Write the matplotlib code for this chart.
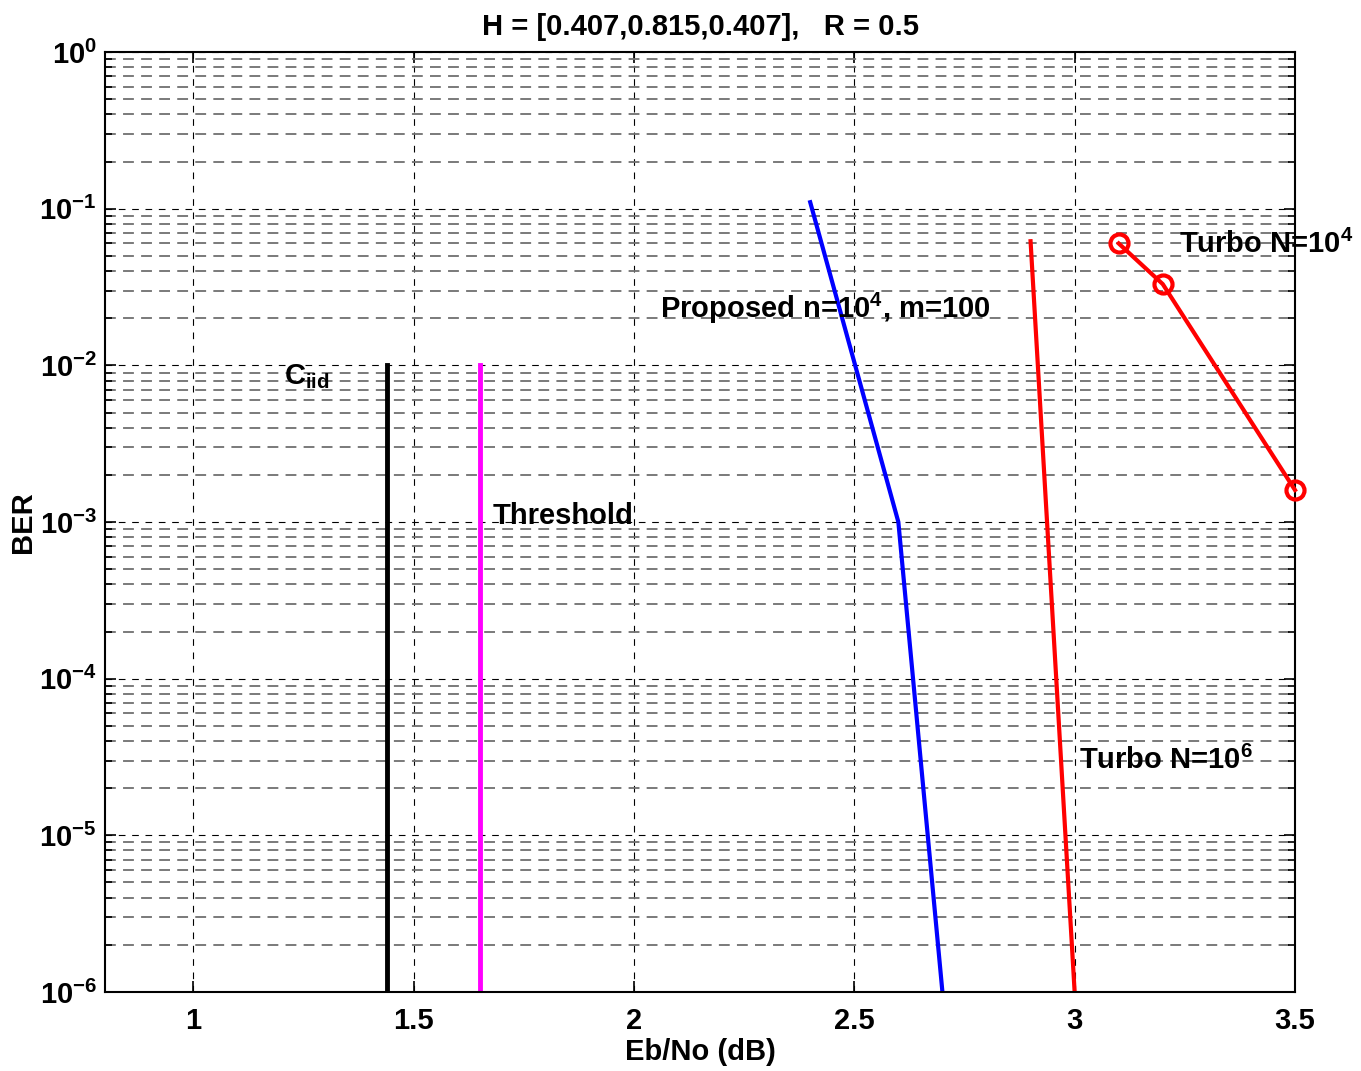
import numpy as np
import matplotlib.pyplot as plt
from matplotlib.ticker import LogLocator, NullFormatter, FixedLocator

plt.rcParams['font.family'] = ['Liberation Sans', 'DejaVu Sans']
plt.rcParams['font.weight'] = 'bold'
plt.rcParams['mathtext.fontset'] = 'custom'
plt.rcParams['mathtext.rm'] = 'Liberation Sans:bold'
plt.rcParams['mathtext.it'] = 'Liberation Sans:bold'
plt.rcParams['mathtext.bf'] = 'Liberation Sans:bold'
plt.rcParams['axes.unicode_minus'] = False

# BER curves
prop_ebno = [2.4, 2.6, 2.7]
prop_ber = [0.11, 1e-3, 1e-6]

turbo6_ebno = [2.9, 3.0]
turbo6_ber = [0.062, 1e-6]

turbo4_ebno = [3.1, 3.2, 3.5]
turbo4_ber = [0.060, 0.033, 0.0016]

# vertical limits: capacity and threshold
c_iid = 1.44
threshold = 1.65
limit_ber = [1e-6, 1e-2]

xticks = [1, 1.5, 2, 2.5, 3, 3.5]

fig = plt.figure(figsize=(13.61, 10.71), dpi=100)
ax = fig.add_axes([0.0772, 0.0738, 0.8743, 0.8776])

ax.semilogy(prop_ebno, prop_ber, color='blue', lw=3)
ax.semilogy(turbo6_ebno, turbo6_ber, color='red', lw=3)
ax.semilogy(turbo4_ebno, turbo4_ber, color='red', lw=3, marker='o',
            markersize=13, markerfacecolor='none', markeredgewidth=3,
            clip_on=False, zorder=5)
ax.semilogy([c_iid, c_iid], limit_ber, color='black', lw=3.5)
ax.semilogy([threshold, threshold], limit_ber, color='magenta', lw=3.5)

ax.set_xlim(0.8, 3.5)
ax.set_ylim(1e-6, 1)
ax.xaxis.set_major_locator(FixedLocator(xticks))
ax.set_xticklabels([f'{t:g}' for t in xticks])
ax.yaxis.set_major_locator(LogLocator(base=10, numticks=10))
ax.yaxis.set_minor_locator(LogLocator(base=10, subs=np.arange(2, 10), numticks=100))
ax.yaxis.set_minor_formatter(NullFormatter())

ax.grid(True, which='major', color='black', linestyle=(0, (6, 6)), lw=0.8)
ax.grid(True, which='minor', axis='y', color='#707070', linestyle=(0, (6, 4)), lw=1.3)
ax.tick_params(which='both', direction='in', top=True, right=True, labelsize=21)
ax.tick_params(which='major', length=8, width=1.2)
ax.tick_params(which='minor', length=5, width=1.2)
ax.tick_params(axis='x', pad=11)
ax.tick_params(axis='y', pad=6)
for sp in ax.spines.values():
    sp.set_linewidth(1.5)

ax.set_xlabel('Eb/No (dB)', fontsize=21, fontweight='bold', labelpad=2)
ax.set_ylabel('BER', fontsize=21, fontweight='bold')
ax.yaxis.set_label_coords(-0.057, 0.5)
ax.set_title('H = [0.407,0.815,0.407],   R = 0.5', fontsize=21, fontweight='bold', pad=12)

ax.text(1.205, 0.0085, r'C$_{\mathrm{iid}}$', fontsize=21, va='center')
ax.text(1.68, 1.1e-3, 'Threshold', fontsize=21, va='center')
ax.text(2.06, 0.023, r'Proposed n=10$^4$, m=100', fontsize=21, va='center')
ax.text(3.236, 0.059, r'Turbo N=10$^4$', fontsize=21, va='center', clip_on=False)
ax.text(3.011, 3.0e-5, r'Turbo N=10$^6$', fontsize=21, va='center')

fig.savefig('out.png', dpi=100)
